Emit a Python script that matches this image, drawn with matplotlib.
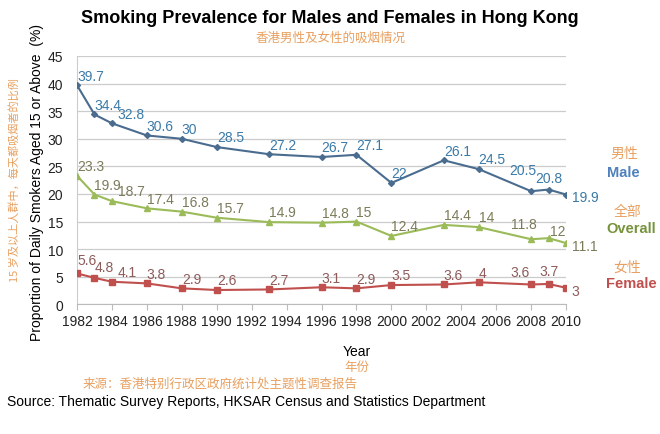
import matplotlib.pyplot as plt

plt.rcParams['font.family'] = ['Liberation Sans', 'Noto Sans CJK SC', 'DejaVu Sans']

years = [1982, 1983, 1984, 1986, 1988, 1990, 1993, 1996, 1998, 2000, 2003, 2005, 2008, 2009, 2010]
male = [39.7, 34.4, 32.8, 30.6, 30, 28.5, 27.2, 26.7, 27.1, 22, 26.1, 24.5, 20.5, 20.8, 19.9]
overall = [23.3, 19.9, 18.7, 17.4, 16.8, 15.7, 14.9, 14.8, 15, 12.4, 14.4, 14, 11.8, 12, 11.1]
female = [5.6, 4.8, 4.1, 3.8, 2.9, 2.6, 2.7, 3.1, 2.9, 3.5, 3.6, 4, 3.6, 3.7, 3]

orange = '#E8A060'
cjk = ['Noto Sans CJK SC', 'DejaVu Sans']

fig = plt.figure(figsize=(6.6, 4.35), dpi=100)
ax = fig.add_axes([0.1167, 0.298, 0.741, 0.571])

# label tweaks where labels crowd: (dx, dy, ha) in points
tweaks = {
    ('m', 12): (4, 15, 'right'), ('m', 13): (0, 8, 'center'),
    ('o', 12): (4, 11, 'right'), ('o', 13): (1, 5, 'left'),
    ('f', 0): (0, 10, 'left'), ('f', 1): (0, 8, 'left'),
    ('f', 12): (-1, 9, 'right'), ('f', 13): (0, 9, 'center'),
}

series = [
    ('m', male, '#4A6C8F', '#3A7AA8', 'D', 3),
    ('o', overall, '#9BBB59', '#7B7B5A', '^', 4),
    ('f', female, '#C0504D', '#8E5A5A', 's', 4),
]
for key, vals, lc, tc, mk, ms in series:
    ax.plot(years, vals, color=lc, lw=1.5, marker=mk, ms=ms, zorder=3)
    for i, (x, v) in enumerate(zip(years, vals)):
        lab = f'{v:g}'
        if i == len(vals) - 1:
            dx, dy, ha = 4, -2, 'left'
        elif (key, i) in tweaks:
            dx, dy, ha = tweaks[(key, i)]
        elif i == 2:
            dx, dy, ha = 4, 7, 'left'
        else:
            dx, dy, ha = 0, 7, 'left'
        ax.annotate(lab, (x, v), xytext=(dx, dy), textcoords='offset points',
                    ha=ha, va='center', fontsize=10, color=tc)

ax.set_xlim(1982, 2010)
ax.set_ylim(0, 45)
ax.set_xticks(range(1982, 2011, 2))
ax.set_yticks(range(0, 46, 5))
ax.tick_params(axis='both', labelsize=10, colors='#222222')
ax.tick_params(axis='y', length=0, pad=10)
ax.tick_params(axis='x', length=4, color='#BBBBBB', pad=3)
ax.grid(axis='y', color='#CCCCCC', lw=0.9)
ax.set_axisbelow(True)
for s in ['top', 'right']:
    ax.spines[s].set_visible(False)
ax.spines['left'].set_color('#CCCCCC')
ax.spines['bottom'].set_color('#BBBBBB')

# titles
fig.text(0.5, 0.958, 'Smoking Prevalence for Males and Females in Hong Kong',
         ha='center', va='center', fontsize=13, fontweight='bold')
fig.text(0.5, 0.912, '香港男性及女性的吸烟情况', ha='center', va='center',
         fontsize=9, color=orange, family=cjk)

# y labels
fig.text(0.056, 0.58, 'Proportion of Daily Smokers Aged 15 or Above  (%)',
         rotation=90, ha='center', va='center', fontsize=10)
fig.text(0.022, 0.585, '15 岁及以上人群中，每天都吸烟者的比例',
         rotation=90, ha='center', va='center', fontsize=8, color=orange, family=cjk)

# x labels
fig.text(0.54, 0.19, 'Year', ha='center', va='center', fontsize=10)
fig.text(0.54, 0.155, '年份', ha='center', va='center', fontsize=9, color=orange, family=cjk)

# legend-like labels on the right
fig.text(0.946, 0.645, '男性', ha='center', va='center', fontsize=10, color=orange, family=cjk)
fig.text(0.919, 0.603, 'Male', ha='left', va='center', fontsize=10.5, fontweight='bold', color='#4F81BD')
fig.text(0.951, 0.512, '全部', ha='center', va='center', fontsize=10, color=orange, family=cjk)
fig.text(0.918, 0.474, 'Overall', ha='left', va='center', fontsize=10.5, fontweight='bold', color='#77933C')
fig.text(0.951, 0.384, '女性', ha='center', va='center', fontsize=10, color=orange, family=cjk)
fig.text(0.918, 0.347, 'Female', ha='left', va='center', fontsize=10.5, fontweight='bold', color='#C0504D')

# source
fig.text(0.125, 0.117, '来源：香港特别行政区政府统计处主题性调查报告', ha='left', va='center',
         fontsize=9, color=orange, family=cjk)
fig.text(0.011, 0.075, 'Source: Thematic Survey Reports, HKSAR Census and Statistics Department',
         ha='left', va='center', fontsize=10)

fig.savefig('out.png', dpi=100)
